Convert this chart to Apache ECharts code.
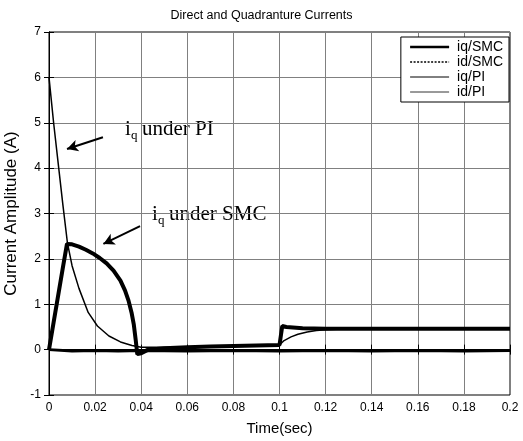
<!DOCTYPE html>
<html>
<head>
<meta charset="utf-8">
<script src="https://cdn.jsdelivr.net/npm/echarts@6/dist/echarts.min.js"></script>
<style>
html, body { margin: 0; padding: 0; background: #fff; }
#main { width: 523px; height: 441px; }
</style>
</head>
<body>
<div id="main"></div>
<script>
var chart = echarts.init(document.getElementById('main'));

// time (s), current (A) pairs
var iqSMC = [[0, 0], [0.002, 0.6], [0.004, 1.2], [0.006, 1.8], [0.0078, 2.33], [0.010, 2.32],
    [0.013, 2.27], [0.016, 2.2], [0.019, 2.12], [0.022, 2.02], [0.025, 1.9], [0.028, 1.74],
    [0.031, 1.52], [0.033, 1.3], [0.0345, 1.08], [0.0358, 0.82], [0.0368, 0.55], [0.0376, 0.22],
    [0.0383, -0.1], [0.040, -0.08], [0.043, 0.0], [0.05, 0.03], [0.06, 0.05], [0.07, 0.07],
    [0.08, 0.08], [0.09, 0.09], [0.1, 0.1], [0.1012, 0.52], [0.103, 0.5], [0.11, 0.47],
    [0.12, 0.46], [0.14, 0.46], [0.16, 0.46], [0.18, 0.46], [0.2, 0.46]];
var idSMC = [[0, 0.0], [0.01, -0.03], [0.02, -0.02], [0.03, -0.03], [0.04, -0.02], [0.06, -0.03],
    [0.08, -0.02], [0.1, -0.03], [0.12, -0.02], [0.14, -0.03], [0.16, -0.02], [0.18, -0.03], [0.2, -0.02]];
var iqPI = [[0, 6.0], [0.002, 5.0], [0.004, 4.1], [0.006, 3.2], [0.008, 2.35], [0.010, 1.85],
    [0.013, 1.35], [0.017, 0.82], [0.021, 0.52], [0.026, 0.3], [0.031, 0.17], [0.036, 0.09],
    [0.040, 0.05], [0.05, 0.05], [0.06, 0.06], [0.07, 0.07], [0.08, 0.08], [0.09, 0.09],
    [0.1, 0.1], [0.102, 0.2], [0.105, 0.28], [0.108, 0.34], [0.112, 0.39], [0.116, 0.42],
    [0.12, 0.44], [0.13, 0.46], [0.14, 0.47], [0.2, 0.47]];
var idPI = [[0, 0.0], [0.02, -0.01], [0.04, 0.0], [0.06, -0.01], [0.08, 0.0], [0.1, -0.01],
    [0.12, 0.0], [0.14, -0.01], [0.16, 0.0], [0.18, -0.01], [0.2, 0.0]];

// annotation arrows: [tail, head] in data units
var arrowPI = [[0.0234, 4.68], [0.0078, 4.42]];
var arrowSMC = [[0.0395, 2.72], [0.0236, 2.33]];

var font = 'Liberation Sans, Arial, sans-serif';
var serif = 'Liberation Serif, Times New Roman, serif';

function arrow(a) {
    return {
        silent: true,
        symbol: ['none', 'arrow'],
        symbolSize: [9, 11],
        label: { show: false },
        lineStyle: { color: '#000', width: 2, type: 'solid' },
        data: [[{ coord: a[0] }, { coord: a[1] }]]
    };
}

function frameAxis(pos, extra) {
    var ax = {
        type: 'value',
        position: pos,
        axisLine: { show: true, lineStyle: { color: '#000' } },
        axisTick: { inside: true, length: 5, lineStyle: { color: '#000' } },
        axisLabel: { show: false },
        splitLine: { show: false }
    };
    for (var k in extra) ax[k] = extra[k];
    return ax;
}

option = {
    animation: false,
    title: {
        text: 'Direct and Quadranture Currents',
        left: 'center',
        top: 4,
        textStyle: { fontFamily: font, fontSize: 12.5, fontWeight: 'normal', color: '#000' }
    },
    grid: {
        left: 49, right: 13, top: 32, bottom: 46,
        outerBoundsMode: 'none',
        show: true, borderColor: '#000', borderWidth: 1
    },
    legend: {
        orient: 'vertical',
        right: 14, top: 37,
        backgroundColor: '#fff',
        borderColor: '#000', borderWidth: 1,
        padding: [3, 6, 3, 8],
        itemWidth: 39, itemHeight: 14, itemGap: 1,
        itemStyle: { color: 'rgba(0,0,0,0)', borderWidth: 0, opacity: 0 },
        textStyle: { fontFamily: font, fontSize: 14, color: '#000', padding: [0, 0, 0, 3] },
        data: [
            { name: 'iq/SMC', lineStyle: { width: 2.5 } },
            { name: 'id/SMC', lineStyle: { width: 1.5, type: [2, 1.5] } },
            { name: 'iq/PI', lineStyle: { width: 1 } },
            { name: 'id/PI', lineStyle: { width: 0.8 } }
        ]
    },
    xAxis: [{
        type: 'value',
        min: 0, max: 0.2, interval: 0.02,
        name: 'Time(sec)',
        nameLocation: 'middle',
        nameGap: 26,
        nameTextStyle: { fontFamily: font, fontSize: 15, color: '#000' },
        axisLine: { show: true, lineStyle: { color: '#000' } },
        axisTick: { inside: true, length: 5, lineStyle: { color: '#000' } },
        axisLabel: { fontFamily: font, fontSize: 12, color: '#000', margin: 7 },
        splitLine: { show: true, lineStyle: { color: '#808080', width: 1 } }
    }, frameAxis('top', { min: 0, max: 0.2, interval: 0.02 })],
    yAxis: [{
        type: 'value',
        min: -1, max: 7, interval: 1,
        name: 'Current Amplitude (A)',
        nameLocation: 'middle',
        nameGap: 23,
        nameTextStyle: { fontFamily: font, fontSize: 17, color: '#000' },
        axisLine: { show: true, lineStyle: { color: '#000' } },
        axisTick: { inside: true, length: 5, lineStyle: { color: '#000' } },
        axisLabel: { fontFamily: font, fontSize: 12, color: '#000', margin: 8 },
        splitLine: { show: true, lineStyle: { color: '#808080', width: 1 } }
    }, frameAxis('right', { min: -1, max: 7, interval: 1 })],
    graphic: [
        { type: 'text', left: 125, top: 119, style: { text: 'i', font: '21px ' + serif, fill: '#000' } },
        { type: 'text', left: 131, top: 129, style: { text: 'q', font: '13px ' + serif, fill: '#000' } },
        { type: 'text', left: 142, top: 119, style: { text: 'under PI', font: '21px ' + serif, fill: '#000' } },
        { type: 'text', left: 152, top: 204, style: { text: 'i', font: '21px ' + serif, fill: '#000' } },
        { type: 'text', left: 158, top: 214, style: { text: 'q', font: '13px ' + serif, fill: '#000' } },
        { type: 'text', left: 169, top: 204, style: { text: 'under SMC', font: '21px ' + serif, fill: '#000' } }
    ],
    series: [
        {
            name: 'iq/SMC', type: 'line', data: iqSMC, showSymbol: false, symbol: 'none',
            itemStyle: { color: '#000' },
            lineStyle: { color: '#000', width: 4 },
            markLine: arrow(arrowPI)
        },
        {
            name: 'id/SMC', type: 'line', data: idSMC, showSymbol: false, symbol: 'none',
            itemStyle: { color: '#000' },
            lineStyle: { color: '#000', width: 3 },
            markLine: arrow(arrowSMC)
        },
        {
            name: 'iq/PI', type: 'line', data: iqPI, showSymbol: false, symbol: 'none',
            itemStyle: { color: '#000' },
            lineStyle: { color: '#000', width: 1.5 }
        },
        {
            name: 'id/PI', type: 'line', data: idPI, showSymbol: false, symbol: 'none',
            itemStyle: { color: '#000' },
            lineStyle: { color: '#000', width: 1.5 }
        }
    ]
};

chart.setOption(option);
</script>
</body>
</html>
